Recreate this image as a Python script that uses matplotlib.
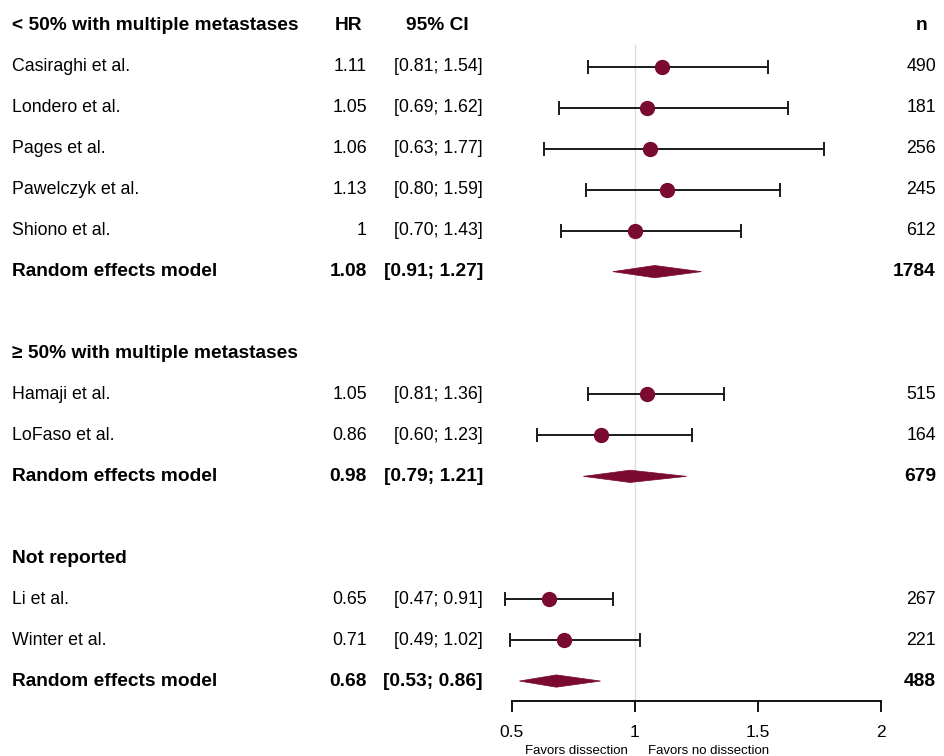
import numpy as np
import matplotlib.pyplot as plt
import matplotlib.transforms as mtransforms
from matplotlib.patches import Polygon

plt.rcParams['font.family'] = ['Liberation Sans', 'DejaVu Sans']

# --- Données ---------------------------------------------------------
groupes = ["< 50% with multiple metastases",
           "\u2265 50% with multiple metastases",
           "Not reported"]

etudes = [["Casiraghi et al.", "Londero et al.", "Pages et al.",
           "Pawelczyk et al.", "Shiono et al."],
          ["Hamaji et al.", "LoFaso et al."],
          ["Li et al.", "Winter et al."]]
hr = [[1.11, 1.05, 1.06, 1.13, 1.00],
      [1.05, 0.86],
      [0.65, 0.71]]
hr_txt = [["1.11", "1.05", "1.06", "1.13", "1"],
          ["1.05", "0.86"],
          ["0.65", "0.71"]]
ci_low = [[0.81, 0.69, 0.63, 0.80, 0.70],
          [0.81, 0.60],
          [0.47, 0.49]]
ci_high = [[1.54, 1.62, 1.77, 1.59, 1.43],
           [1.36, 1.23],
           [0.91, 1.02]]
n_etude = [[490, 181, 256, 245, 612],
           [515, 164],
           [267, 221]]

# modèle à effets aléatoires par groupe
rem_hr = [1.08, 0.98, 0.68]
rem_low = [0.91, 0.79, 0.53]
rem_high = [1.27, 1.21, 0.86]
rem_n = [1784, 679, 488]

couleur = '#7a0a30'
fs = 12.8   # texte normal
fsb = 13.8  # texte gras

# --- Figure ----------------------------------------------------------
W, H = 945, 756
fig = plt.figure(figsize=(W / 100, H / 100), dpi=100)

x0, x1 = 0.4, 2.1
px_unit = (881 - 512) / 1.5
left_px = 512 - (0.5 - x0) * px_unit
width_px = (x1 - x0) * px_unit
row_h = 40.94
top_row = 26
axis_px = 701
y_top = -top_row / row_h
y_bot = (axis_px - top_row) / row_h

ax = fig.add_axes([left_px / W, (H - axis_px) / H, width_px / W, axis_px / H])
ax.set_xlim(x0, x1)
ax.set_ylim(y_bot, y_top)

for s in ['top', 'right', 'left']:
    ax.spines[s].set_visible(False)
ax.spines['bottom'].set_bounds(0.5, 2)
ax.spines['bottom'].set_linewidth(1.3)
ax.set_yticks([])
ax.set_xticks([0.5, 1, 1.5, 2])
ax.set_xticklabels(["0.5", "1", "1.5", "2"], fontsize=12.5)
ax.tick_params(axis='x', length=8, width=1.3, pad=9)

ax.plot([1, 1], [0.47, y_bot], color='#dedede', lw=1, zorder=0)

tr = mtransforms.blended_transform_factory(fig.transFigure, ax.transData)
xl = 12 / W
x_hr = 367 / W
x_ci = 483 / W
x_n = 936 / W

ax.text(349 / W, 0, "HR", transform=tr, ha='center', va='center', fontsize=fsb, fontweight='bold')
ax.text(437 / W, 0, "95% CI", transform=tr, ha='center', va='center', fontsize=fsb, fontweight='bold')
ax.text(922 / W, 0, "n", transform=tr, ha='center', va='center', fontsize=fsb, fontweight='bold')

row = 0
for g in range(len(groupes)):
    ax.text(xl, row, groupes[g], transform=tr, ha='left', va='center', fontsize=fsb, fontweight='bold')
    row += 1
    for k in range(len(etudes[g])):
        ax.text(xl, row, etudes[g][k], transform=tr, ha='left', va='center', fontsize=fs)
        ax.text(x_hr, row, hr_txt[g][k], transform=tr, ha='right', va='center', fontsize=fs)
        ax.text(x_ci, row, "[%.2f; %.2f]" % (ci_low[g][k], ci_high[g][k]), transform=tr,
                ha='right', va='center', fontsize=fs)
        ax.text(x_n, row, str(n_etude[g][k]), transform=tr, ha='right', va='center', fontsize=fs)
        ax.errorbar(hr[g][k], row,
                    xerr=[[hr[g][k] - ci_low[g][k]], [ci_high[g][k] - hr[g][k]]],
                    fmt='o', color='black', ecolor='#1a1a1a', elinewidth=1.4,
                    capsize=5, capthick=1.4, markersize=10,
                    markerfacecolor=couleur, markeredgecolor=couleur, zorder=3)
        row += 1
    # ligne du modèle
    ax.text(xl, row, "Random effects model", transform=tr, ha='left', va='center',
            fontsize=fsb, fontweight='bold')
    ax.text(x_hr, row, "%.2f" % rem_hr[g], transform=tr, ha='right', va='center',
            fontsize=fsb, fontweight='bold')
    ax.text(x_ci, row, "[%.2f; %.2f]" % (rem_low[g], rem_high[g]), transform=tr,
            ha='right', va='center', fontsize=fsb, fontweight='bold')
    ax.text(x_n, row, str(rem_n[g]), transform=tr, ha='right', va='center',
            fontsize=fsb, fontweight='bold')
    dh = 0.15
    ax.add_patch(Polygon([[rem_low[g], row], [rem_hr[g], row - dh],
                          [rem_high[g], row], [rem_hr[g], row + dh]],
                         closed=True, facecolor=couleur, edgecolor=couleur, lw=0.5, zorder=3))
    row += 2

fig.text(628 / W, (H - 751) / H, "Favors dissection", ha='right', va='center', fontsize=9.5)
fig.text(648 / W, (H - 751) / H, "Favors no dissection", ha='left', va='center', fontsize=9.5)

fig.savefig('out.png', dpi=100)
